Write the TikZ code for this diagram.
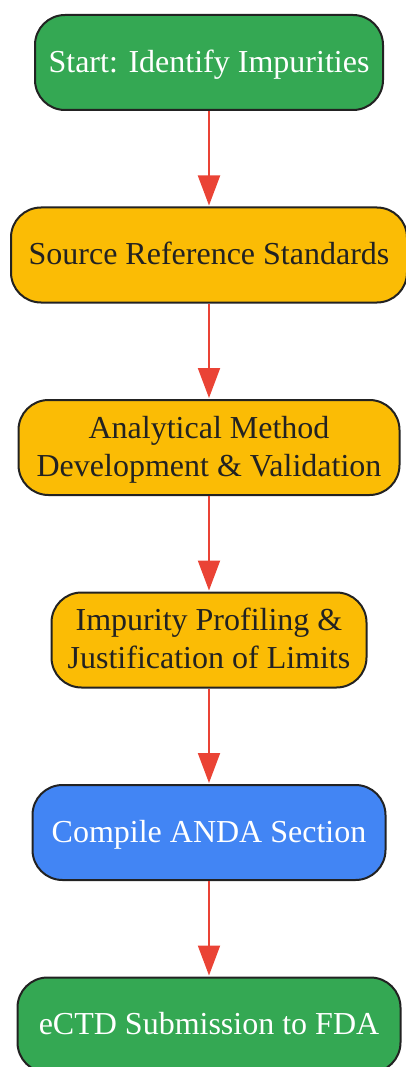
\documentclass[tikz,border=0pt]{standalone}
\usepackage{fontspec}
\setmainfont{Liberation Serif}
\usepackage{tikz}
\usetikzlibrary{positioning,arrows.meta}

\definecolor{gstart}{HTML}{34A853}
\definecolor{gstep}{HTML}{FBBC05}
\definecolor{gcompile}{HTML}{4285F4}
\definecolor{gflow}{HTML}{EA4335}
\definecolor{gedge}{HTML}{222222}

\begin{document}
\begin{tikzpicture}[%
    x=1pt, y=1pt,
    node distance=95.5pt,
    box/.style={draw=gedge, line width=2pt, rounded corners=30pt,
      minimum height=95pt, align=center, font=\fontsize{32}{38}\selectfont,
      inner xsep=10pt, text depth=0.3em},
    startbox/.style={box, fill=gstart, text=white},
    stepbox/.style={box, fill=gstep, text=gedge},
    compilebox/.style={box, fill=gcompile, text=white},
    flow/.style={draw=gflow, line width=2pt,
      -{Triangle[length=30pt,width=22pt]}, shorten >=1pt}
  ]
  \useasboundingbox (0,0) rectangle (406,-1067);

  \node[startbox, minimum width=348pt] (start) at (209,-62.5) {Start: Identify Impurities};
  \node[stepbox, minimum width=396pt, below=of start] (source) {Source Reference Standards};
  \node[stepbox, minimum width=381pt, below=of source] (method) {Analytical Method\\Development \& Validation};
  \node[stepbox, minimum width=315pt, below=of method] (profile) {Impurity Profiling \&\\Justification of Limits};
  \node[compilebox, minimum width=353pt, below=of profile] (anda) {Compile ANDA Section};
  \node[startbox, minimum width=383pt, below=of anda] (ectd) {eCTD Submission to FDA};

  % arrows between steps
  \foreach \a/\b in {start/source, source/method, method/profile, profile/anda, anda/ectd}
    {\draw[flow] (\a) -- (\b);}
\end{tikzpicture}
\end{document}
